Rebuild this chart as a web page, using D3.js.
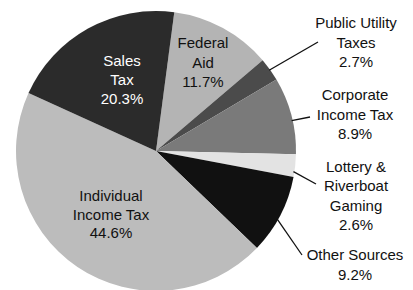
<!DOCTYPE html>
<html>
<head>
<meta charset="utf-8">
<script src="https://cdn.jsdelivr.net/npm/d3@7"></script>
<style>
  body { margin: 0; background: #fff; }
  text { font-family: "Liberation Sans", Arial, Helvetica, sans-serif; font-size: 15px; }
</style>
</head>
<body>
<div class="chart"></div>
<script>
// revenue sources, clockwise starting just right of 12 o'clock
const categories = ["Federal Aid", "Public Utility Taxes", "Corporate Income Tax",
                    "Lottery & Riverboat Gaming", "Other Sources", "Individual Income Tax", "Sales Tax"];
const shares = [11.7, 2.7, 8.9, 2.6, 9.2, 44.6, 20.3];
const labelLines = [["Federal", "Aid"], ["Public Utility", "Taxes"], ["Corporate", "Income Tax"],
                    ["Lottery &", "Riverboat", "Gaming"], ["Other Sources"], ["Individual", "Income Tax"], ["Sales", "Tax"]];
const fills = ["#b4b4b4", "#4b4b4b", "#7a7a7a", "#e3e3e3", "#111111", "#bcbcbc", "#2b2b2b"];

const width = 413, height = 290;
const cx = 156, cy = 151, radius = 140;

// label placement: x centre, first baseline, line height, text colour, leader angle offset (deg) or null
const labelPos = [
    {x: 203, y: 48, lh: 19.5, color: "#111", leader: null},
    {x: 356, y: 28, lh: 19.5, color: "#111", leader: 0},
    {x: 355, y: 100, lh: 19.5, color: "#111", leader: 2},
    {x: 356, y: 172, lh: 19.3, color: "#111", leader: 2.5},
    {x: 355, y: 260, lh: 19.5, color: "#111", leader: 2},
    {x: 111, y: 201, lh: 18.5, color: "#111", leader: null},
    {x: 122, y: 66, lh: 19, color: "#fff", leader: null}
];
// where each leader line ends (next to its label)
const leaderEnds = [null, [318, 42], [310, 117], [316, 184], null, null, null];
leaderEnds[4] = [302, 255];

const svg = d3.select(".chart").append("svg")
    .attr("width", width)
    .attr("height", height);

const g = svg.append("g")
    .attr("transform", "translate(" + cx + "," + cy + ")");

const startAngle = 7.5 * Math.PI / 180;
const pie = d3.pie()
    .sort(null)
    .value(d => d)
    .startAngle(startAngle)
    .endAngle(startAngle + 2 * Math.PI);

const arcs = pie(shares);
const arc = d3.arc().innerRadius(0).outerRadius(radius);

g.selectAll("path.slice")
    .data(arcs)
    .join("path")
    .attr("class", "slice")
    .attr("d", arc)
    .attr("fill", (d, i) => fills[i]);

// leader lines from the rim to the outside labels
arcs.forEach((d, i) => {
    const p = labelPos[i];
    if (p.leader === null) return;
    const a = (d.startAngle + d.endAngle) / 2 + p.leader * Math.PI / 180;
    const r0 = radius - 1;
    const x1 = Math.sin(a) * r0, y1 = -Math.cos(a) * r0;
    const end = leaderEnds[i];
    g.append("line")
        .attr("x1", x1).attr("y1", y1)
        .attr("x2", end[0] - cx).attr("y2", end[1] - cy)
        .attr("stroke", "#111")
        .attr("stroke-width", 1.3);
});

// labels
categories.forEach((name, i) => {
    const p = labelPos[i];
    const lines = labelLines[i].concat([shares[i].toFixed(1) + "%"]);
    const t = svg.append("text")
        .attr("text-anchor", "middle")
        .attr("fill", p.color);
    t.append("title").text(name);
    lines.forEach((l, k) => {
        t.append("tspan")
            .attr("x", p.x)
            .attr("y", p.y + k * p.lh)
            .text(l);
    });
});
</script>
</body>
</html>
